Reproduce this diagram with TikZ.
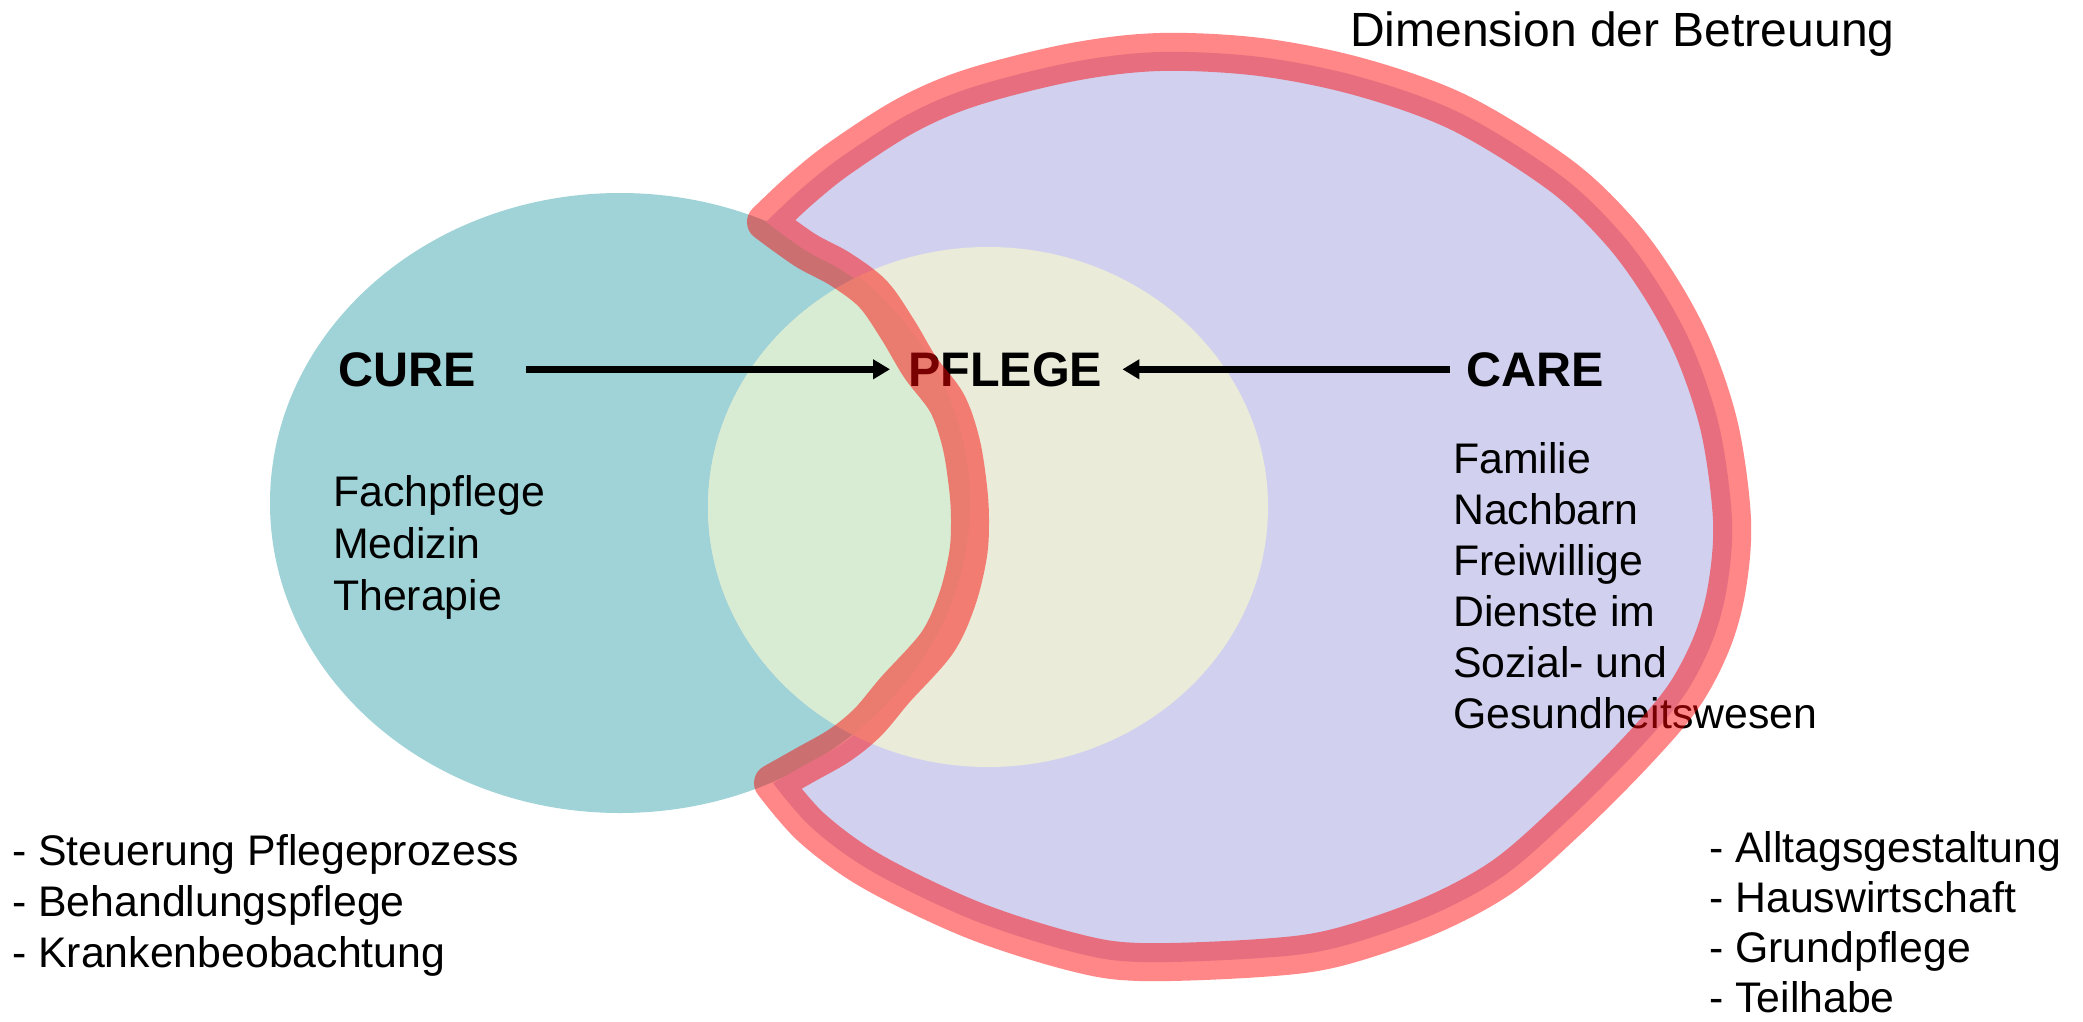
\documentclass[tikz,border=0pt]{standalone}
\usepackage{fontspec}
\setmainfont{Liberation Sans}
\usetikzlibrary{arrows.meta}
\definecolor{cyanc}{HTML}{9FD3D7}
\definecolor{lav}{HTML}{D1D1EF}
\definecolor{yel}{HTML}{EAEBD9}
\definecolor{lensc}{HTML}{D8EBD3}
\newcommand{\blobpath}{plot[smooth,tension=0.55] coordinates {(766,222) (800,190) (840,158) (907,115) (973,87) (1073,62) (1160,52) (1260,57) (1360,77) (1460,113) (1560,175) (1620,232) (1662,290) (1695,353) (1720,430) (1732,520) (1727,587) (1712,642) (1683,697) (1635,753) (1568,820) (1502,877) (1427,917) (1335,948) (1260,958) (1140,962) (1073,952) (973,920) (873,872) (812,828) (773,783)}
 -- plot[smooth,tension=0.55] coordinates {(773,783) (805,765) (840,745) (868,722) (895,690) (937,643) (957,600) (968,555) (970,520) (968,487) (961,443) (947,403) (920,367) (898,330) (873,294) (840,269) (805,250) (766,222)} -- cycle}
\begin{document}
\begin{tikzpicture}[x=1pt,y=-1pt,
  txt/.style={inner sep=0pt, anchor=base west, font=\fontsize{42.8}{51}\selectfont},
  ttl/.style={inner sep=0pt, anchor=base west, font=\fontsize{48}{57}\selectfont},
  bold/.style={inner sep=0pt, anchor=base west, font=\fontsize{48.5}{58}\selectfont\bfseries},
  arr/.style={line width=6.5pt, -{Triangle[length=17pt,width=19pt]}},
  rim/.style={draw=red, draw opacity=0.47, line width=38pt, line join=round}]
\useasboundingbox (0,0) rectangle (2083,1021);
\fill[white] (0,0) rectangle (2083,1021);
% circles and blob
\fill[cyanc] (620,503) ellipse [x radius=350, y radius=310];
\fill[lav] \blobpath;
\fill[yel] (988,507) ellipse [x radius=280, y radius=260];
\begin{scope}
  \clip (620,503) ellipse [x radius=350, y radius=310];
  \fill[lensc] (988,507) ellipse [x radius=280, y radius=260];
\end{scope}
% texts
\node[ttl] (title) at (1350,46) {Dimension der Betreuung};
\node[bold] (cure) at (338,386) {CURE};
\node[bold] (pflege) at (908,386) {PFLEGE};
\node[bold] (care) at (1466,386) {CARE};
\foreach \t [count=\i] in {Fachpflege,Medizin,Therapie}
  \node[txt] (cl\i) at (333,{506+52*(\i-1)}) {\t};
\foreach \t [count=\i] in {Familie,Nachbarn,Freiwillige,Dienste im,Sozial- und,Gesundheitswesen}
  \node[txt] (ca\i) at (1453,{473+51*(\i-1)}) {\t};
\foreach \t [count=\i] in {- Steuerung Pflegeprozess,- Behandlungspflege,- Krankenbeobachtung}
  \node[txt] (bl\i) at (12,{865+51*(\i-1)}) {\t};
\foreach \t [count=\i] in {- Alltagsgestaltung,- Hauswirtschaft,- Grundpflege,- Teilhabe}
  \node[txt] (br\i) at (1709,{862+50.3*(\i-1)}) {\t};
% arrows
\draw[arr] ([xshift=50pt]cure.east) -- ([xshift=-18pt]pflege.west);
\draw[arr] ([xshift=-16pt]care.west) -- ([xshift=20pt]pflege.east);
% red rim on top
\path[rim] \blobpath;
\end{tikzpicture}
\end{document}
